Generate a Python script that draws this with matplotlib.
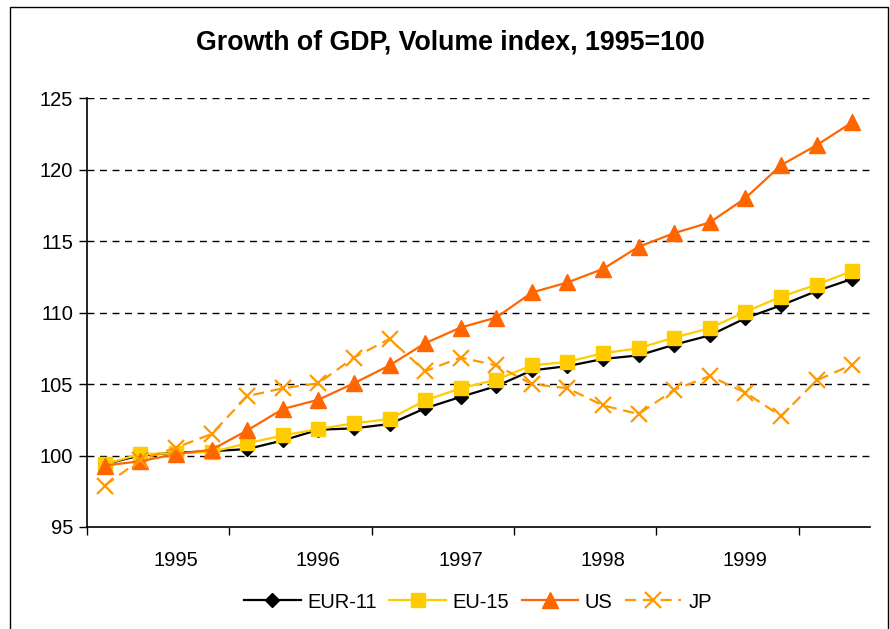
import matplotlib
matplotlib.use("Agg")
import matplotlib.pyplot as plt
from matplotlib.patches import Rectangle

plt.rcParams['font.family'] = ['Liberation Sans', 'DejaVu Sans']

# Quarterly observations (22 quarters)
quarters = list(range(22))
year_labels = ["1995", "1996", "1997", "1998", "1999"]
year_label_pos = [2, 6, 10, 14, 18]
year_ticks = [-0.5, 3.5, 7.5, 11.5, 15.5, 19.5]

eur11 = [99.4, 100.0, 100.2, 100.3, 100.45, 101.05, 101.8, 101.9, 102.2, 103.3, 104.1,
         104.85, 105.95, 106.25, 106.75, 107.0, 107.75, 108.4, 109.6, 110.5, 111.5, 112.35]
eu15 = [99.4, 100.1, 100.15, 100.25, 100.85, 101.4, 101.85, 102.25, 102.55, 103.85, 104.7,
        105.3, 106.3, 106.55, 107.15, 107.5, 108.25, 108.9, 110.05, 111.1, 111.95, 112.9]
us = [99.3, 99.6, 100.1, 100.4, 101.75, 103.25, 103.9, 105.05, 106.3, 107.85, 108.95,
      109.65, 111.4, 112.1, 113.05, 114.6, 115.55, 116.3, 118.0, 120.3, 121.7, 123.3]
jp = [97.9, 99.7, 100.55, 101.5, 104.15, 104.7, 105.05, 106.85, 108.15, 105.9, 106.85,
      106.3, 105.0, 104.7, 103.5, 102.9, 104.6, 105.55, 104.4, 102.75, 105.25, 106.35]

W, H = 890, 629
fig = plt.figure(figsize=(W / 100, H / 100), dpi=100)
fig.patch.set_facecolor('white')

# outer chart frame
fig.add_artist(Rectangle((10 / W, -0.05), 878 / W, (H - 7) / H + 0.05,
                         transform=fig.transFigure, fill=False,
                         edgecolor='black', linewidth=1.0))

ax = fig.add_axes([87 / W, (H - 527) / H, 783 / W, 429 / H])

ax.plot(quarters, eur11, color='black', lw=1.6, marker='D', ms=7.5,
        mfc='black', mec='black', label='EUR-11', zorder=3)
ax.plot(quarters, eu15, color='#FFCC00', lw=1.6, marker='s', ms=10,
        mfc='#FFCC00', mec='#FFCC00', label='EU-15', zorder=4)
ax.plot(quarters, us, color='#FF6600', lw=1.6, marker='^', ms=11,
        mfc='#FF6600', mec='#FF6600', label='US', zorder=5)
ax.plot(quarters, jp, color='#FF9900', lw=1.6, ls=(0, (5, 3)), marker='x', ms=11,
        mew=1.6, mec='#FF9900', label='JP', zorder=6)

ax.set_xlim(-0.5, 21.5)
ax.set_ylim(95, 125)
ax.set_yticks(range(95, 126, 5))
ax.tick_params(axis='y', labelsize=14.5, length=6, width=1, direction='out', pad=4)

ax.set_xticks(year_ticks)
ax.set_xticklabels([])
ax.set_xticks(year_label_pos, minor=True)
ax.set_xticklabels(year_labels, minor=True)
ax.tick_params(axis='x', which='major', length=6, width=1, direction='out')
ax.tick_params(axis='x', which='minor', length=0, labelsize=14.5, pad=17)

for v in range(100, 126, 5):
    ax.axhline(v, color='black', lw=1.0, ls=(0, (5, 4)), zorder=1)

for s in ['top', 'right']:
    ax.spines[s].set_visible(False)
for s in ['left', 'bottom']:
    ax.spines[s].set_linewidth(1.2)

fig.text(450 / W, 1 - 42 / H, 'Growth of GDP, Volume index, 1995=100',
         ha='center', va='center', fontsize=19.3, fontweight='bold')

fig.legend(loc='center', bbox_to_anchor=(478 / W, 1 - 602 / H), ncol=4,
           frameon=False, fontsize=14.5, handlelength=2.8, handletextpad=0.35,
           columnspacing=0.6, borderpad=0)

fig.savefig('out.png', dpi=100)
